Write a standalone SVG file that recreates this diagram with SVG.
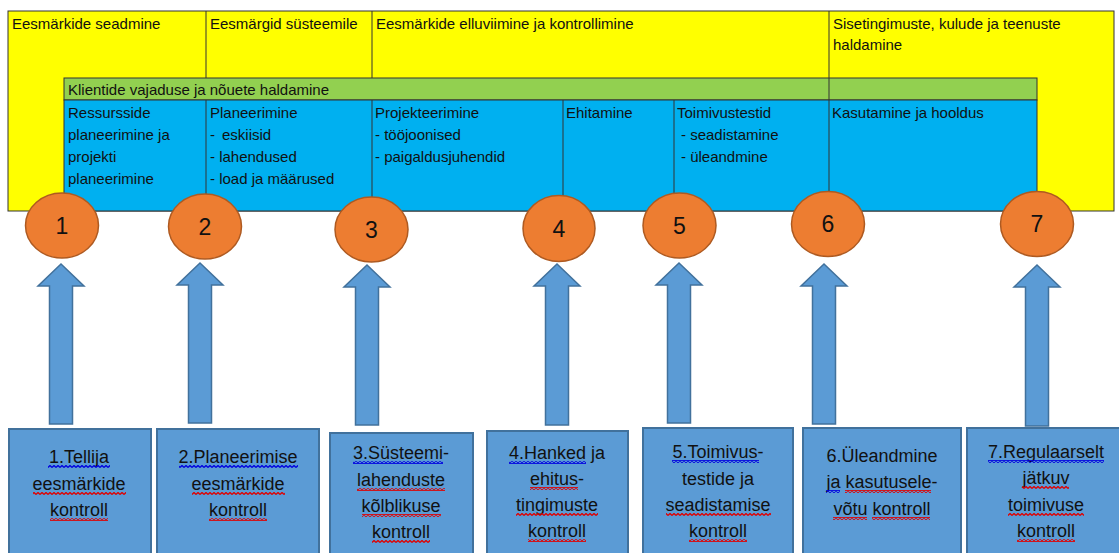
<svg xmlns="http://www.w3.org/2000/svg" width="1119" height="553" viewBox="0 0 1119 553">
<style>
  .t { font-family: "Liberation Sans", Arial, sans-serif; font-size: 15px; fill: #111; }
  .b { font-family: "Liberation Sans", Arial, sans-serif; font-size: 18px; fill: #111; text-anchor: middle; }
  .n { font-family: "Liberation Sans", Arial, sans-serif; font-size: 23px; fill: #111; text-anchor: middle; }
  .ln { stroke: #333; stroke-width: 1; fill: none; }
  .circ { fill: #ED7D31; stroke: #AE5A21; stroke-width: 1.5; }
  .arr { fill: #5B9BD5; stroke: #41719C; stroke-width: 1.5; }
  .box { fill: #5B9BD5; stroke: #41719C; stroke-width: 2; }
  .wr { fill: url(#wavR); }
  .wb { fill: url(#wavB); }
</style>
<defs>
  <pattern id="wavR" width="4" height="3" patternUnits="userSpaceOnUse">
    <path d="M0,2.5 L2,0.5 L4,2.5" fill="none" stroke="#E00000" stroke-width="1.3"/>
  </pattern>
  <pattern id="wavB" width="4" height="3" patternUnits="userSpaceOnUse">
    <path d="M0,2.5 L2,0.5 L4,2.5" fill="none" stroke="#0000E0" stroke-width="1.3"/>
  </pattern>
</defs>
<rect width="1119" height="553" fill="#fff"/>

<g id="phases">
  <rect x="8" y="11" width="1106" height="200" style="fill:#FFFF00;stroke:#333;stroke-width:1"/>
  <rect x="64" y="78" width="973" height="22" style="fill:#92D050;stroke:#333;stroke-width:1"/>
  <rect x="64" y="100" width="973" height="111" style="fill:#00B0F0;stroke:#333;stroke-width:1"/>
  <line class="ln" x1="206" y1="11" x2="206" y2="78"/>
  <line class="ln" x1="372" y1="11" x2="372" y2="78"/>
  <line class="ln" x1="829" y1="11" x2="829" y2="211"/>
  <line class="ln" x1="206" y1="100" x2="206" y2="211"/>
  <line class="ln" x1="372" y1="100" x2="372" y2="211"/>
  <line class="ln" x1="563" y1="100" x2="563" y2="211"/>
  <line class="ln" x1="674" y1="100" x2="674" y2="211"/>
  <text class="t" x="12" y="29">Eesmärkide seadmine</text>
  <text class="t" x="210" y="29">Eesmärgid süsteemile</text>
  <text class="t" x="376" y="29">Eesmärkide elluviimine ja kontrollimine</text>
  <text class="t" x="833" y="29">Sisetingimuste, kulude ja teenuste</text>
  <text class="t" x="833" y="50">haldamine</text>
  <text class="t" x="68" y="95">Klientide vajaduse ja nõuete haldamine</text>
  <text class="t" x="68" y="118">Ressursside</text>
  <text class="t" x="68" y="140">planeerimine ja</text>
  <text class="t" x="68" y="162">projekti</text>
  <text class="t" x="68" y="184">planeerimine</text>
  <text class="t" x="210" y="118">Planeerimine</text>
  <text class="t" x="210" y="140">-</text>
  <text class="t" x="222" y="140">eskiisid</text>
  <text class="t" x="210" y="162">- lahendused</text>
  <text class="t" x="210" y="184">- load ja määrused</text>
  <text class="t" x="375" y="118">Projekteerimine</text>
  <text class="t" x="375" y="140">- tööjoonised</text>
  <text class="t" x="375" y="162">- paigaldusjuhendid</text>
  <text class="t" x="566" y="118">Ehitamine</text>
  <text class="t" x="677" y="118">Toimivustestid</text>
  <text class="t" x="681" y="140">- seadistamine</text>
  <text class="t" x="681" y="162">- üleandmine</text>
  <text class="t" x="832" y="118">Kasutamine ja hooldus</text>
</g>

<g id="connectors">
  <polygon class="arr" points="61,264 84,286 72.5,286 72.5,424 49.5,424 49.5,286 38,286"/>
  <polygon class="arr" points="200,263 223,285 211.5,285 211.5,423 188.5,423 188.5,285 177,285"/>
  <polygon class="arr" points="367,265 390,287 378.5,287 378.5,425 355.5,425 355.5,287 344,287"/>
  <polygon class="arr" points="557,264 580,286 568.5,286 568.5,425 545.5,425 545.5,286 534,286"/>
  <polygon class="arr" points="679,263 702,285 690.5,285 690.5,423 667.5,423 667.5,285 656,285"/>
  <polygon class="arr" points="824,264 847,286 835.5,286 835.5,424 812.5,424 812.5,286 801,286"/>
  <polygon class="arr" points="1037,265 1060,287 1048.5,287 1048.5,426 1025.5,426 1025.5,287 1014,287"/>
</g>

<g id="c1"><ellipse class="circ" cx="62" cy="225.5" rx="36.5" ry="32.5"/><text class="n" x="62" y="234">1</text></g>
<g id="c2"><ellipse class="circ" cx="205" cy="226.5" rx="36.5" ry="32.5"/><text class="n" x="205" y="235">2</text></g>
<g id="c3"><ellipse class="circ" cx="371.5" cy="229.5" rx="36.5" ry="32.5"/><text class="n" x="371.5" y="238">3</text></g>
<g id="c4"><ellipse class="circ" cx="559" cy="228.5" rx="36" ry="33"/><text class="n" x="559" y="237">4</text></g>
<g id="c5"><ellipse class="circ" cx="679.5" cy="225.5" rx="36.5" ry="32.5"/><text class="n" x="679.5" y="234">5</text></g>
<g id="c6"><ellipse class="circ" cx="828" cy="224" rx="36.5" ry="32.5"/><text class="n" x="828" y="232">6</text></g>
<g id="c7"><ellipse class="circ" cx="1037" cy="224" rx="36.5" ry="32.5"/><text class="n" x="1037" y="232">7</text></g>

<g id="k1">
  <rect class="box" x="9" y="429" width="142" height="130"/>
  <text class="b" x="79" y="463">1.Tellija</text>
  <text class="b" x="79" y="490">eesmärkide</text>
  <text class="b" x="79" y="516">kontroll</text>
  <rect class="wb" x="48" y="465" width="62" height="3"/>
  <rect class="wr" x="33" y="492" width="93" height="3"/>
  <rect class="wr" x="50" y="518" width="58" height="3"/>
</g>
<g id="k2">
  <rect class="box" x="157" y="429" width="162" height="130"/>
  <text class="b" x="238" y="463">2.Planeerimise</text>
  <text class="b" x="238" y="490">eesmärkide</text>
  <text class="b" x="238" y="516">kontroll</text>
  <rect class="wb" x="179" y="465" width="119" height="3"/>
  <rect class="wr" x="192" y="492" width="93" height="3"/>
  <rect class="wr" x="209" y="518" width="58" height="3"/>
</g>
<g id="k3">
  <rect class="box" x="330" y="433" width="143" height="126"/>
  <text class="b" x="401" y="459">3.Süsteemi-</text>
  <text class="b" x="401" y="486">lahenduste</text>
  <text class="b" x="401" y="512">kõlblikuse</text>
  <text class="b" x="401" y="538">kontroll</text>
  <rect class="wb" x="353" y="461" width="90" height="3"/>
  <rect class="wr" x="357" y="488" width="88" height="3"/>
  <rect class="wr" x="362" y="514" width="79" height="3"/>
  <rect class="wr" x="372" y="540" width="58" height="3"/>
</g>
<g id="k4">
  <rect class="box" x="487" y="431" width="141" height="128"/>
  <text class="b" x="557" y="459">4.Hanked ja</text>
  <text class="b" x="557" y="485">ehitus-</text>
  <text class="b" x="557" y="511">tingimuste</text>
  <text class="b" x="557" y="537">kontroll</text>
  <rect class="wb" x="509" y="461" width="77" height="3"/>
  <rect class="wr" x="530" y="487" width="48" height="3"/>
  <rect class="wr" x="516" y="513" width="82" height="3"/>
  <rect class="wr" x="528" y="539" width="58" height="3"/>
</g>
<g id="k5">
  <rect class="box" x="643" y="428" width="150" height="131"/>
  <text class="b" x="718" y="458">5.Toimivus-</text>
  <text class="b" x="718" y="485">testide ja</text>
  <text class="b" x="718" y="511">seadistamise</text>
  <text class="b" x="718" y="537">kontroll</text>
  <rect class="wb" x="672" y="460" width="87" height="3"/>
  <rect class="wr" x="666" y="513" width="105" height="3"/>
  <rect class="wr" x="689" y="539" width="58" height="3"/>
</g>
<g id="k6">
  <rect class="box" x="803" y="428" width="158" height="131"/>
  <text class="b" x="882" y="462">6.Üleandmine</text>
  <text class="b" x="882" y="488">ja kasutusele-</text>
  <text class="b" x="882" y="515">võtu kontroll</text>
  <rect class="wb" x="826" y="490" width="14" height="3"/>
  <rect class="wr" x="845" y="490" width="86" height="3"/>
  <rect class="wr" x="833" y="517" width="34" height="3"/>
  <rect class="wr" x="872" y="517" width="58" height="3"/>
</g>
<g id="k7">
  <rect class="box" x="967" y="428" width="160" height="131"/>
  <text class="b" x="1046" y="458">7.Regulaarselt</text>
  <text class="b" x="1046" y="484">jätkuv</text>
  <text class="b" x="1046" y="511">toimivuse</text>
  <text class="b" x="1046" y="537">kontroll</text>
  <rect class="wb" x="988" y="460" width="116" height="3"/>
  <rect class="wr" x="1022" y="486" width="47" height="3"/>
  <rect class="wr" x="1008" y="513" width="76" height="3"/>
  <rect class="wr" x="1017" y="539" width="58" height="3"/>
</g>
</svg>
